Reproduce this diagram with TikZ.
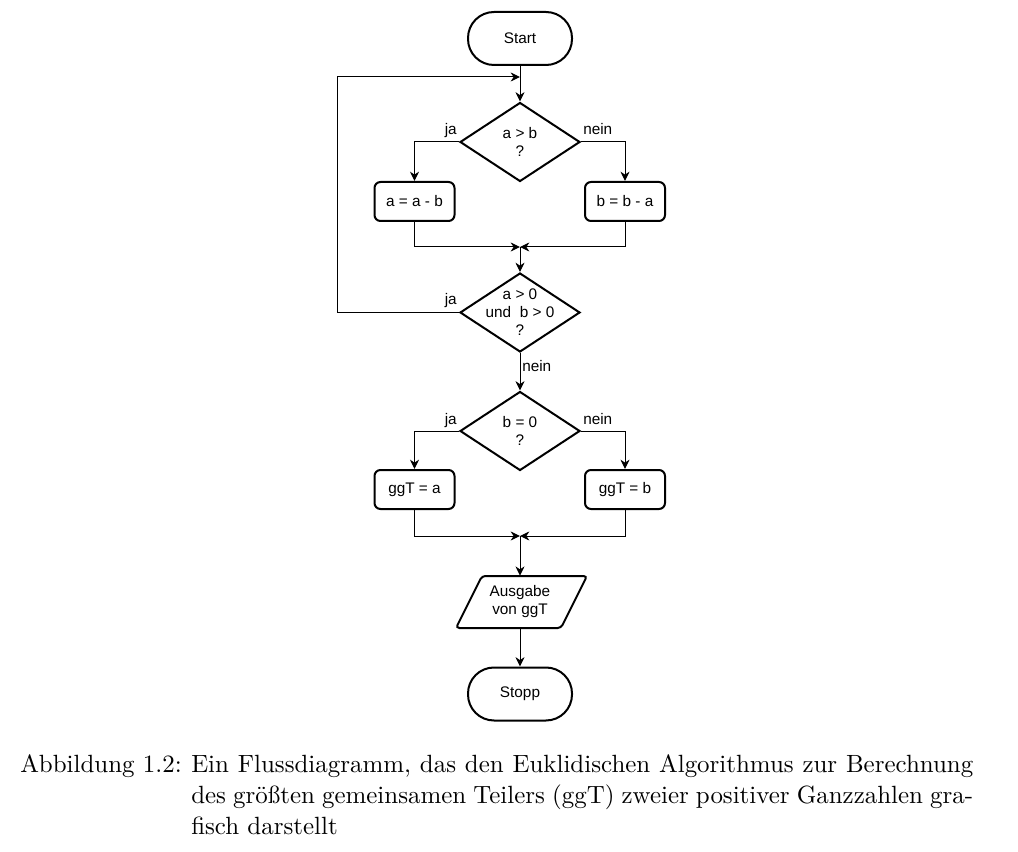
\documentclass[tikz,border=0pt]{standalone}
\usepackage{fontspec}
\newfontfamily\flowfont{Liberation Sans}
\newfontfamily\capfont{lmroman10-regular.otf}
\usetikzlibrary{shapes.geometric,arrows.meta,calc}
\begin{document}
\begin{tikzpicture}[x=0.75pt,y=-0.75pt,
  every node/.style={font=\flowfont\fontsize{11.5}{13.5}\selectfont},
  term/.style={draw, line width=1.5pt, rectangle, rounded corners=19.5pt, minimum width=78pt, minimum height=39.75pt, inner sep=0},
  proc/.style={draw, line width=1.5pt, rectangle, rounded corners=4.5pt, minimum width=60pt, minimum height=29.25pt, inner sep=0},
  dec/.style={draw, line width=1.5pt, diamond, minimum width=90pt, minimum height=59.25pt, inner sep=0, align=center},
  conn/.style={line width=0.75pt, -{Stealth[length=7pt,width=6.75pt,inset=2.2pt]}},
  lbl/.style={inner sep=0},
  txt/.style={align=center, inner sep=0}
]
\path[use as bounding box] (0,0) rectangle (1018,852);

\node[term] (start) at (520,38.5) {Start};
\node[dec] (d1) at (520,142) {a > b\\?};
\node[proc] (b1) at (414.5,201.5) {a = a - b};
\node[proc] (b2) at (625,201.5) {b = b - a};
\node[dec] (d2) at (520,312.5) {};
\node[txt] (d2t) at (d2) {a > 0\\und \ b > 0\\?};
\node[dec] (d3) at (520,431) {b = 0\\?};
\node[proc] (g1) at (414.5,489.5) {ggT = a};
\node[proc] (g2) at (625,489.5) {ggT = b};
\node[draw=none, minimum width=78pt, minimum height=39pt, inner sep=0, align=center] (out) at (520,602) {Ausgabe\\von ggT};
\draw[line width=1.5pt, rounded corners=2.5pt] ($(out.center)+(-38,-26)$) -- ($(out.center)+(67,-26)$) -- ($(out.center)+(41,26)$) -- ($(out.center)+(-64,26)$) -- cycle;
\node[term] (stop) at (520,694) {Stopp};

\coordinate (j1) at (520,77);
\coordinate (lc) at (337,77);
\coordinate (m1) at (520,247);
\coordinate (m2) at (520,536);

\draw[conn] (start.south) -- (d1.north);
\draw[conn] (d2.west) -| (lc) -- (j1);
\draw[conn] (d1.west) -| (b1.north);
\draw[conn] (d1.east) -| (b2.north);
\draw[conn] (b1.south) |- (m1);
\draw[conn] (b2.south) |- (m1);
\draw[conn] (m1) -- (d2.north);
\draw[conn] (d2.south) -- (d3.north);
\draw[conn] (d3.west) -| (g1.north);
\draw[conn] (d3.east) -| (g2.north);
\draw[conn] (g1.south) |- (m2);
\draw[conn] (g2.south) |- (m2);
\draw[conn] (m2) -- (out.north);
\draw[conn] (out.south) -- (stop.north);

\node[lbl, anchor=base east] (l1) at ($(d1.west)+(-2,-7)$) {ja};
\node[lbl, anchor=base west] (l2) at ($(d1.east)+(2,-7)$) {nein};
\node[lbl, anchor=base east] (l3) at ($(d2.west)+(-2,-8)$) {ja};
\node[lbl, anchor=base west] (l4) at ($(d2.south)+(2,19)$) {nein};
\node[lbl, anchor=base east] (l5) at ($(d3.west)+(-2,-7)$) {ja};
\node[lbl, anchor=base west] (l6) at ($(d3.east)+(2,-7)$) {nein};

\node[anchor=base west, inner sep=0, font=\capfont\fontsize{18.7}{23.25}\selectfont] (cap) at (20,772) {\makebox[128.25pt][l]{Abbildung 1.2:}\parbox[t]{586.5pt}{Ein Flussdiagramm, das den Euklidischen Algorithmus zur Berechnung\linebreak des größten gemeinsamen Teilers (ggT) zweier positiver Ganzzahlen gra-\linebreak fisch darstellt}};
\end{tikzpicture}
\end{document}
